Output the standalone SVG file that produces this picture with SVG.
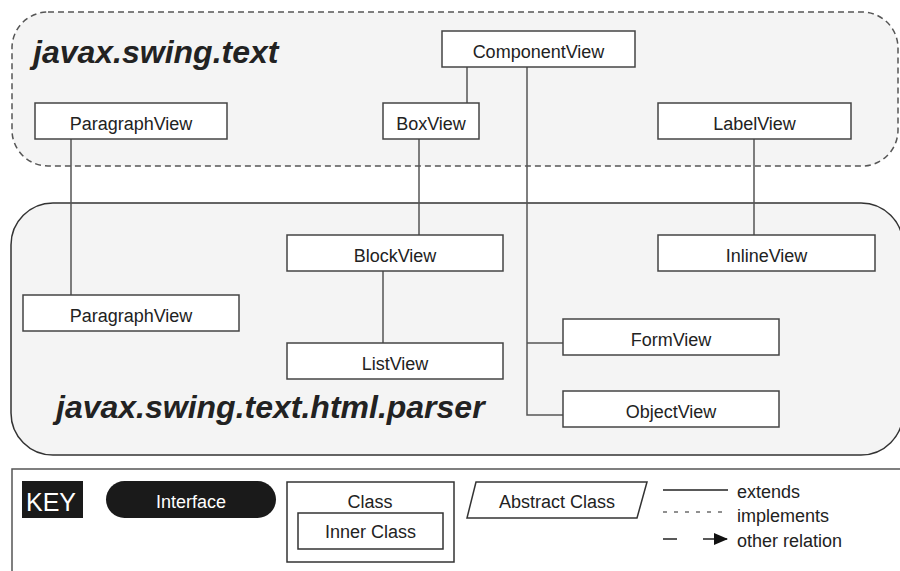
<svg xmlns="http://www.w3.org/2000/svg" width="900" height="571" viewBox="0 0 900 571">
<defs>
<style>
.node rect{fill:#fff;stroke:#444;stroke-width:1.5}
.lbl{font-family:"Liberation Sans",Arial,sans-serif;font-size:18px;fill:#222;text-anchor:middle}
.pkg{font-family:"Liberation Sans",Arial,sans-serif;font-size:32px;font-weight:bold;font-style:italic;fill:#222}
.conn line,.conn path{stroke:#555;stroke-width:1.5;fill:none}
.key{font-family:"Liberation Sans",Arial,sans-serif;font-size:18px;fill:#222}
</style>
<marker id="arr" markerWidth="14" markerHeight="12" refX="13" refY="6" orient="auto" markerUnits="userSpaceOnUse">
<path d="M0,0 L14,6 L0,12 z" fill="#111"/>
</marker>
</defs>
<rect width="900" height="571" fill="#fff"/>
<g id="pkg-text">
<rect x="12" y="12" width="886" height="154" rx="36" fill="#f4f4f4" stroke="#555" stroke-width="1.5" stroke-dasharray="6 4"/>
<text class="pkg" x="33" y="63">javax.swing.text</text>
</g>
<g id="pkg-parser">
<rect x="11" y="203" width="892" height="252" rx="42" fill="#f4f4f4" stroke="#333" stroke-width="1.5"/>
<text class="pkg" x="56" y="418">javax.swing.text.html.parser</text>
</g>
<g class="conn" id="connectors">
<line x1="467" y1="67" x2="467" y2="103"/>
<path d="M527,67 V415 H563"/>
<line x1="527" y1="343" x2="563" y2="343"/>
<line x1="71" y1="139" x2="71" y2="295"/>
<line x1="419" y1="139" x2="419" y2="235"/>
<line x1="754" y1="139" x2="754" y2="235"/>
<line x1="383" y1="271" x2="383" y2="343"/>
</g>
<g class="node" id="ComponentView"><rect x="442" y="31" width="193" height="36"/><text class="lbl" x="538.5" y="57.5">ComponentView</text></g>
<g class="node" id="ParagraphView1"><rect x="35" y="103" width="192" height="36"/><text class="lbl" x="131" y="129.5">ParagraphView</text></g>
<g class="node" id="BoxView"><rect x="383" y="103" width="96" height="36"/><text class="lbl" x="431" y="129.5">BoxView</text></g>
<g class="node" id="LabelView"><rect x="658" y="103" width="193" height="36"/><text class="lbl" x="754.5" y="129.5">LabelView</text></g>
<g class="node" id="BlockView"><rect x="287" y="235" width="216" height="36"/><text class="lbl" x="395" y="261.5">BlockView</text></g>
<g class="node" id="InlineView"><rect x="658" y="235" width="217" height="36"/><text class="lbl" x="766.5" y="261.5">InlineView</text></g>
<g class="node" id="ParagraphView2"><rect x="23" y="295" width="216" height="36"/><text class="lbl" x="131" y="321.5">ParagraphView</text></g>
<g class="node" id="FormView"><rect x="563" y="319" width="216" height="36"/><text class="lbl" x="671" y="345.5">FormView</text></g>
<g class="node" id="ListView"><rect x="287" y="343" width="216" height="36"/><text class="lbl" x="395" y="369.5">ListView</text></g>
<g class="node" id="ObjectView"><rect x="563" y="391" width="216" height="36"/><text class="lbl" x="671" y="417.5">ObjectView</text></g>
<g id="legend">
<rect x="12" y="469" width="895" height="110" fill="#fff" stroke="#555" stroke-width="1.5"/>
<rect x="22" y="481" width="61" height="37" fill="#1a1a1a"/>
<text x="26" y="511" font-family="'Liberation Sans',Arial,sans-serif" font-size="25" fill="#fff">KEY</text>
<rect x="106" y="481" width="170" height="37" rx="18.5" fill="#1a1a1a"/>
<text class="lbl" x="191" y="507.5" style="fill:#fff">Interface</text>
<rect x="287" y="482" width="167" height="80" fill="#fff" stroke="#333" stroke-width="1.5"/>
<text class="lbl" x="370" y="508">Class</text>
<rect x="298" y="513" width="145" height="36" fill="#fff" stroke="#333" stroke-width="1.5"/>
<text class="lbl" x="370.5" y="538">Inner Class</text>
<path d="M476,482 H647 L637,518 H467 Z" fill="#fff" stroke="#333" stroke-width="1.5"/>
<text class="lbl" x="557" y="508">Abstract Class</text>
<line x1="663" y1="490" x2="728" y2="490" stroke="#222" stroke-width="1.5"/>
<text class="key" x="737" y="498">extends</text>
<line x1="663" y1="512" x2="728" y2="512" stroke="#222" stroke-width="1.2" stroke-dasharray="4 7"/>
<text class="key" x="737" y="522">implements</text>
<line x1="663" y1="539" x2="677" y2="539" stroke="#222" stroke-width="1.5"/>
<line x1="703" y1="539" x2="727" y2="539" stroke="#222" stroke-width="1.5" marker-end="url(#arr)"/>
<text class="key" x="737" y="547">other relation</text>
</g>
</svg>
